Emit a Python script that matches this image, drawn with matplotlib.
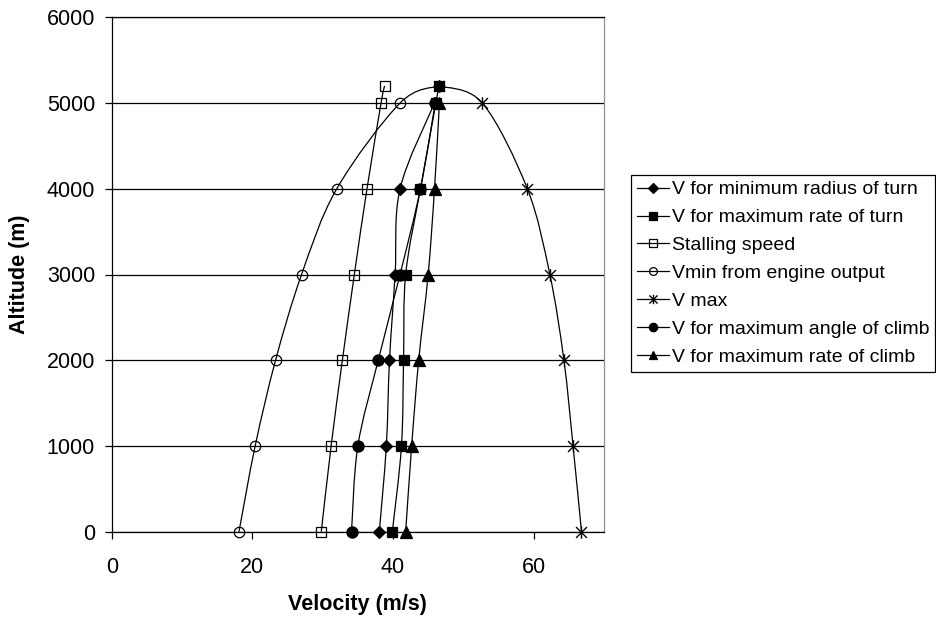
import numpy as np
import matplotlib
matplotlib.use("Agg")
import matplotlib.pyplot as plt
from matplotlib.path import Path
from matplotlib.patches import PathPatch
from matplotlib.lines import Line2D

plt.rcParams['font.family'] = ['Liberation Sans', 'DejaVu Sans']

# ---- data ----
alt = [0, 1000, 2000, 3000, 4000, 5000]
alt_ext = [0, 1000, 2000, 3000, 4000, 5000, 5200]

v_min_radius_turn = [38.05, 39.05, 39.5, 40.3, 41.0, 45.9]
v_max_rate_turn = [39.9, 41.2, 41.5, 41.8, 43.9, 46.1, 46.5]
v_stall = [29.8, 31.2, 32.8, 34.5, 36.3, 38.3, 38.8]
v_min_engine = [18.1, 20.4, 23.3, 27.0, 32.0, 41.0, 46.5]
v_max = [66.8, 65.6, 64.3, 62.3, 59.1, 52.7, 46.5]
v_max_angle_climb = [34.1, 35.0, 37.9, 41.0, 43.9, 46.0]
v_max_rate_climb = [41.8, 42.65, 43.65, 45.0, 45.9, 46.6]

labels = ["V for minimum radius of turn", "V for maximum rate of turn",
          "Stalling speed", "Vmin from engine output", "V max",
          "V for maximum angle of climb", "V for maximum rate of climb"]

# star marker (x with vertical bar)
star = Path([(-1, -1), (1, 1), (-1, 1), (1, -1), (0, -1.15), (0, 1.15)],
            [Path.MOVETO, Path.LINETO, Path.MOVETO, Path.LINETO, Path.MOVETO, Path.LINETO])

series = [
    (v_min_radius_turn, alt, dict(marker='D', ms=6.5, mfc='black')),
    (v_max_rate_turn, alt_ext, dict(marker='s', ms=7.5, mfc='black')),
    (v_stall, alt_ext, dict(marker='s', ms=7.5, mfc='none')),
    (v_min_engine, alt_ext, dict(marker='o', ms=7.5, mfc='none')),
    (v_max, alt_ext, dict(marker=star, ms=9, mfc='none', mew=1.0)),
    (v_max_angle_climb, alt, dict(marker='o', ms=8, mfc='black')),
    (v_max_rate_climb, alt, dict(marker='^', ms=8, mfc='black')),
]


def smooth_path(xs, ys):
    pts = np.column_stack([xs, ys]).astype(float)
    n = len(pts)
    verts = [pts[0]]
    codes = [Path.MOVETO]
    for i in range(n - 1):
        p0 = pts[i - 1] if i > 0 else pts[i]
        p1 = pts[i]
        p2 = pts[i + 1]
        p3 = pts[i + 2] if i + 2 < n else pts[i + 1]
        c1 = p1 + (p2 - p0) / 6.0
        c2 = p2 - (p3 - p1) / 6.0
        verts += [c1, c2, p2]
        codes += [Path.CURVE4] * 3
    return Path(verts, codes)


fig = plt.figure(figsize=(9.36, 6.22), dpi=100)
ax = fig.add_axes([111.7 / 936, 1 - 531.7 / 622, (604 - 111.7) / 936, (531.7 - 17.3) / 622])

ax.set_xlim(0, 70)
ax.set_ylim(0, 6000)
ax.set_xticks([0, 20, 40, 60])
ax.set_yticks(range(0, 6001, 1000))
ax.yaxis.grid(True, color='black', linewidth=0.9)
ax.set_axisbelow(True)

handles = []
for (xs, ys, st), lab in zip(series, labels):
    patch = PathPatch(smooth_path(xs, ys), facecolor='none', edgecolor='black', lw=0.9, zorder=2)
    ax.add_patch(patch)
    ax.plot(xs, ys, linestyle='none', color='black', mec='black', zorder=3, clip_on=False,
            mew=st.get('mew', 0.9), marker=st['marker'], ms=st['ms'], mfc=st['mfc'])
    handles.append(Line2D([], [], color='black', lw=0.9, marker=st['marker'],
                          ms=st['ms'] * 0.75, mfc=st['mfc'], mec='black',
                          mew=st.get('mew', 0.9)))

for s in ['left', 'bottom', 'top']:
    ax.spines[s].set_color('black')
    ax.spines[s].set_linewidth(0.9)
ax.spines['right'].set_color('#909090')
ax.spines['right'].set_linewidth(0.9)

ax.tick_params(axis='both', direction='out', length=5, width=0.9, labelsize=15.5, colors='black')
ax.tick_params(axis='y', pad=7)
ax.tick_params(axis='x', pad=13)

ax.set_xlabel('Velocity (m/s)', fontsize=15.5, fontweight='bold', labelpad=12)
ax.set_ylabel('Altitude (m)', fontsize=15.5, fontweight='bold', labelpad=12)

leg = fig.legend(handles, labels, loc='upper left',
                 bbox_to_anchor=(631 / 936, 1 - 175 / 622),
                 bbox_transform=fig.transFigure,
                 fontsize=14, frameon=True, fancybox=False, shadow=False,
                 edgecolor='black', framealpha=1, handlelength=1.65,
                 handletextpad=0.15, borderpad=0.3, labelspacing=0.53,
                 borderaxespad=0)
leg.get_frame().set_linewidth(0.9)

fig.savefig('out.png', dpi=100)
